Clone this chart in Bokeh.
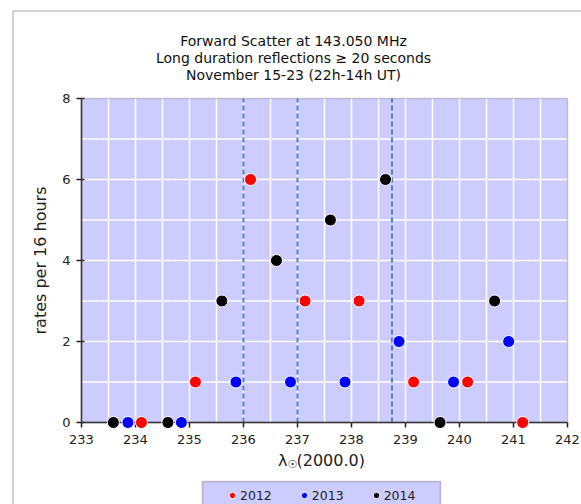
import numpy as np
from bokeh.plotting import figure
from bokeh.models import (Range1d, SingleIntervalTicker, Label, Legend,
                          LegendItem, BoxAnnotation)
from bokeh.embed import file_html
from bokeh.resources import INLINE

# ---- data ----
x_2012 = [234.11, 235.11, 236.13, 237.14, 238.14, 239.15, 240.15, 241.17]
y_2012 = [0, 1, 6, 3, 3, 1, 1, 0]
x_2013 = [233.86, 234.85, 235.86, 236.87, 237.88, 238.88, 239.89, 240.91]
y_2013 = [0, 0, 1, 1, 1, 2, 1, 2]
x_2014 = [233.59, 234.60, 235.60, 236.61, 237.61, 238.63, 239.64, 240.65]
y_2014 = [0, 0, 3, 4, 5, 6, 0, 3]
series_names = ["2012", "2013", "2014"]
series_colors = ["#ff0000", "#0000ff", "#000000"]
dashed_marks = [236.0, 237.0, 238.75]
title_lines = ["Forward Scatter at 143.050 MHz",
               "Long duration reflections \u2265 20 seconds",
               "November 15-23 (22h-14h UT)"]
y_label = "rates per 16 hours"
x_label_parts = ["\u03bb", "\u2609", "(2000.0)"]
x_min, x_max = 233, 242
y_min, y_max = 0, 8

FONT = "DejaVu Sans"
W, H = 581, 504
# pixel box of the plot area inside the canvas
PL, PR, PT, PB = 81, 567, 98, 422
ppx = (PR - PL) / (x_max - x_min)
ppy = (PB - PT) / (y_max - y_min)

def xd(px):
    return x_min + (px - PL) / ppx

def yd(py):
    return y_min + (PB - py) / ppy

p = figure(width=W, height=H, output_backend="svg", toolbar_location=None,
           x_range=Range1d(xd(0), xd(W)), y_range=Range1d(yd(H), yd(0)),
           min_border=0, min_border_left=0, min_border_right=0,
           min_border_top=0, min_border_bottom=0)
p.background_fill_color = "white"
p.border_fill_color = "white"
p.outline_line_color = None
p.xgrid.visible = False
p.ygrid.visible = False

# outer chart border (only top/left are inside the window)
p.add_layout(BoxAnnotation(left=xd(12.5), right=xd(W + 20), top=yd(10.5), bottom=yd(H + 20),
                           fill_alpha=0, line_color="#333", line_width=1.5,
                           level="underlay"))

# plot-area background
p.add_layout(BoxAnnotation(left=x_min, right=x_max, bottom=y_min, top=y_max,
                           fill_color="#ccccff", fill_alpha=1.0, line_color=None,
                           level="underlay"))

# grid lines (every 0.5 in x, every 1 in y)
gx = np.arange(x_min + 0.5, x_max, 0.5)
gy = np.arange(y_min + 1, y_max, 1)
p.segment(x0=gx, y0=y_min, x1=gx, y1=y_max, line_color="white", line_width=1.5)
p.segment(x0=x_min, y0=gy, x1=x_max, y1=gy, line_color="white", line_width=1.5)

# dashed vertical lines
p.segment(x0=dashed_marks, y0=y_min, x1=dashed_marks, y1=y_max,
          line_color="#4f81bd", line_width=2, line_dash="5 3")

# plot-area outline
p.add_layout(BoxAnnotation(left=x_min, right=x_max, bottom=y_min, top=y_max,
                           fill_alpha=0, line_color="#666666", line_width=1.5))

# axes fixed at the plot-area edges
p.xaxis.fixed_location = y_min
p.xaxis.bounds = (x_min, x_max)
p.yaxis.fixed_location = x_min
p.yaxis.bounds = (y_min, y_max)
p.xaxis.ticker = SingleIntervalTicker(interval=1)
p.yaxis.ticker = SingleIntervalTicker(interval=2)
for ax in (p.xaxis, p.yaxis):
    ax.axis_line_color = "#222"
    ax.axis_line_width = 1.5
    ax.major_tick_line_color = "#222"
    ax.major_tick_line_width = 1.5
    ax.minor_tick_line_color = None
    ax.major_label_text_font = FONT
    ax.major_label_text_font_size = "13px"
    ax.major_label_text_color = "#222"
p.xaxis.major_tick_out = 5
p.xaxis.major_tick_in = 0
p.yaxis.major_tick_out = 5
p.yaxis.major_tick_in = 3
p.xaxis.major_label_standoff = 7
p.yaxis.major_label_standoff = 6
p.yaxis.axis_label = y_label
p.yaxis.axis_label_text_font = FONT
p.yaxis.axis_label_text_font_size = "16px"
p.yaxis.axis_label_text_font_style = "normal"
p.yaxis.axis_label_text_color = "#222"
p.yaxis.axis_label_standoff = 9

# scatter series (on top of axes)
renderers = []
for xs, ys, c in zip([x_2012, x_2013, x_2014], [y_2012, y_2013, y_2014], series_colors):
    r = p.scatter(xs, ys, size=12, fill_color=c, line_color="white", line_width=1,
                  level="overlay")
    renderers.append(r)

# title lines
x_mid = (x_min + x_max) / 2
for i, t in enumerate(title_lines):
    p.add_layout(Label(x=x_mid, y=y_max, x_offset=-31, y_offset=58 - 17 * i, text=t,
                       text_align="center", text_baseline="middle",
                       text_font=FONT, text_font_size="14px", text_color="#111"))

# x axis label: lambda with sun subscript
p.add_layout(Label(x=x_mid, y=y_min, x_offset=-37, y_offset=-38, text=x_label_parts[0],
                   text_align="right", text_baseline="middle",
                   text_font=FONT, text_font_size="16px", text_color="#222"))
p.add_layout(Label(x=x_mid, y=y_min, x_offset=-37, y_offset=-42, text=x_label_parts[1],
                   text_align="left", text_baseline="middle",
                   text_font=FONT, text_font_size="11px", text_color="#222"))
p.add_layout(Label(x=x_mid, y=y_min, x_offset=-28, y_offset=-38, text=x_label_parts[2],
                   text_align="left", text_baseline="middle",
                   text_font=FONT, text_font_size="16px", text_color="#222"))

# legend frame
p.add_layout(BoxAnnotation(left=xd(202), right=xd(440), top=yd(481), bottom=yd(H + 20),
                           fill_color="#ccccff", fill_alpha=1.0,
                           line_color="#444", line_width=1.5))

legend = Legend(items=[LegendItem(label=n, renderers=[r]) for n, r in zip(series_names, renderers)],
                orientation="horizontal", location=(224, 1),
                background_fill_alpha=0, border_line_color=None,
                glyph_width=16, glyph_height=16, label_standoff=0, spacing=24,
                padding=2, margin=0, label_text_font=FONT,
                label_text_font_size="12.5px", label_text_color="#222",
                label_height=16)
p.add_layout(legend)

open("out.html", "w").write(file_html(p, INLINE))
